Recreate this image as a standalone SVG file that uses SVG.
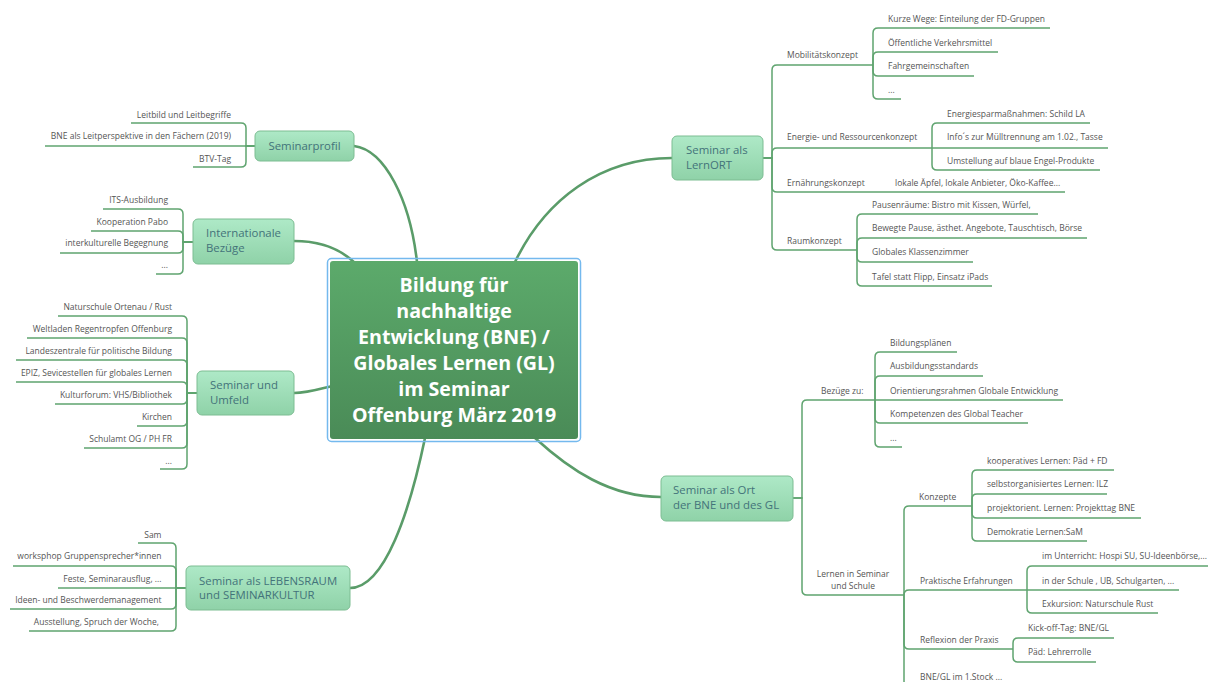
<svg xmlns="http://www.w3.org/2000/svg" width="1208" height="682" viewBox="0 0 1208 682">
<defs>
<linearGradient id="ng" x1="0" y1="0" x2="0" y2="1"><stop offset="0" stop-color="#aee9c7"/><stop offset="1" stop-color="#8fd2a8"/></linearGradient>
<linearGradient id="cg" x1="0" y1="0" x2="0" y2="1"><stop offset="0" stop-color="#5caa6b"/><stop offset="1" stop-color="#4a8b57"/></linearGradient>
<style>
.conn{fill:none;stroke:#5a9c69;stroke-width:2.6;stroke-linecap:round}
.br{fill:none;stroke:#5fa46f;stroke-width:1.5}
.node{fill:url(#ng);stroke:#7cbd92;stroke-width:1}
.nt{font-family:"Open Sans","Noto Sans",sans-serif;font-size:11.4px;fill:#43737a}
.ct{font-family:"Open Sans","Noto Sans",sans-serif;font-size:19.6px;font-weight:bold;fill:#ffffff;text-anchor:middle}
.lt{font-family:"Open Sans","Noto Sans",sans-serif;font-size:8.5px;fill:#555555}
.r{text-anchor:end}
.m{text-anchor:middle}
</style>
</defs>
<rect width="1208" height="682" fill="#ffffff"/>
<g id="connectors">
<path class="conn" d="M354,146 C385,150 410,200 417,262"/>
<path class="conn" d="M294,241 C320,241 340,248 356,264"/>
<path class="conn" d="M294,393 C306,393 316,390 332,386"/>
<path class="conn" d="M350,588 C385,588 410,510 425,438"/>
<path class="conn" d="M515,262 C545,200 600,158 672,158"/>
<path class="conn" d="M535,438 C570,470 610,497 661,497"/>
<!-- LernORT -->
<path class="br" d="M763,158 H772 V70 Q772,65 777,65 H873"/>
<path class="br" d="M763,158 H772 V153 Q772,148 777,148 H932"/>
<path class="br" d="M763,158 H772 V187 Q772,192 777,192 H1065"/>
<path class="br" d="M763,158 H772 V245 Q772,250 777,250 H857"/>
<path class="br" d="M873,65 V33 Q873,28 878,28 H1050"/>
<path class="br" d="M873,65 V57 Q873,52 878,52 H998"/>
<path class="br" d="M873,65 V71 Q873,76 878,76 H974"/>
<path class="br" d="M873,65 V94 Q873,99 878,99 H901"/>
<path class="br" d="M932,148 V128 Q932,123 937,123 H1090"/>
<path class="br" d="M932,148 H1108"/>
<path class="br" d="M932,148 V165 Q932,170 937,170 H1100"/>
<path class="br" d="M857,250 V219 Q857,214 862,214 H1038"/>
<path class="br" d="M857,250 V243 Q857,238 862,238 H1087"/>
<path class="br" d="M857,250 V257 Q857,262 862,262 H973"/>
<path class="br" d="M857,250 V281 Q857,286 862,286 H992"/>
<!-- Ort -->
<path class="br" d="M793,498 H802 V405 Q802,400 807,400 H875"/>
<path class="br" d="M793,498 H802 V590 Q802,595 807,595 H904"/>
<path class="br" d="M875,400 V357 Q875,352 880,352 H957"/>
<path class="br" d="M875,400 V381 Q875,376 880,376 H983"/>
<path class="br" d="M875,400 H1063"/>
<path class="br" d="M875,400 V418 Q875,423 880,423 H1028"/>
<path class="br" d="M875,400 V442 Q875,447 880,447 H902"/>
<path class="br" d="M904,595 V511 Q904,506 909,506 H972"/>
<path class="br" d="M904,595 Q904,590 909,590 H1027"/>
<path class="br" d="M904,595 V644 Q904,649 909,649 H1013"/>
<path class="br" d="M904,595 V681 Q904,686 909,686 H1010"/>
<path class="br" d="M972,506 V475 Q972,470 977,470 H1114"/>
<path class="br" d="M972,506 V499 Q972,494 977,494 H1107"/>
<path class="br" d="M972,506 V513 Q972,518 977,518 H1141"/>
<path class="br" d="M972,506 V536 Q972,541 977,541 H1087"/>
<path class="br" d="M1027,590 V571 Q1027,566 1032,566 H1210"/>
<path class="br" d="M1027,590 H1179"/>
<path class="br" d="M1027,590 V608 Q1027,613 1032,613 H1158"/>
<path class="br" d="M1013,649 V643 Q1013,638 1018,638 H1114"/>
<path class="br" d="M1013,649 V657 Q1013,662 1018,662 H1096"/>
<!-- Seminarprofil -->
<path class="br" d="M255,146 H246 V128 Q246,123 241,123 H131"/>
<path class="br" d="M255,146 H45"/>
<path class="br" d="M255,146 H246 V162 Q246,167 241,167 H193"/>
<!-- Internationale -->
<path class="br" d="M193,242 H183 V214 Q183,209 178,209 H103"/>
<path class="br" d="M193,242 H183 V236 Q183,231 178,231 H91"/>
<path class="br" d="M193,242 H183 V248 Q183,253 178,253 H60"/>
<path class="br" d="M193,242 H183 V269 Q183,274 178,274 H156"/>
<!-- Umfeld -->
<path class="br" d="M197,393 H187 V321 Q187,316 182,316 H58"/>
<path class="br" d="M197,393 H187 V343 Q187,338 182,338 H27"/>
<path class="br" d="M197,393 H187 V365 Q187,360 182,360 H16"/>
<path class="br" d="M197,393 H187 V387 Q187,382 182,382 H16"/>
<path class="br" d="M197,393 H187 V399 Q187,404 182,404 H55"/>
<path class="br" d="M197,393 H187 V421 Q187,426 182,426 H137"/>
<path class="br" d="M197,393 H187 V443 Q187,448 182,448 H84"/>
<path class="br" d="M197,393 H187 V464 Q187,469 182,469 H160"/>
<!-- Lebensraum -->
<path class="br" d="M186,588 H176 V548 Q176,543 171,543 H138"/>
<path class="br" d="M186,588 H176 V571 Q176,566 171,566 H13"/>
<path class="br" d="M186,588 H58"/>
<path class="br" d="M186,588 H176 V604 Q176,609 171,609 H10"/>
<path class="br" d="M186,588 H176 V626 Q176,631 171,631 H29"/>
</g>
<g id="center">
<rect x="327.5" y="258.5" width="253" height="183" rx="4" fill="none" stroke="#74b9ee" stroke-width="1.5"/>
<rect x="330" y="261" width="248" height="178" rx="3" fill="url(#cg)"/>
<text class="ct" x="454" y="292">Bildung für</text>
<text class="ct" x="454" y="318">nachhaltige</text>
<text class="ct" x="454" y="344">Entwicklung (BNE) /</text>
<text class="ct" x="454" y="370">Globales Lernen (GL)</text>
<text class="ct" x="454" y="396">im Seminar</text>
<text class="ct" x="454" y="422">Offenburg März 2019</text>
</g>
<g id="seminarprofil">
<rect class="node" x="255" y="131" width="99" height="30" rx="5"/>
<text class="nt m" x="304.5" y="150">Seminarprofil</text>
<text class="lt r" x="231" y="117.5">Leitbild und Leitbegriffe</text>
<text class="lt r" x="231" y="139">BNE als Leitperspektive in den Fächern (2019)</text>
<text class="lt r" x="231" y="161.5">BTV-Tag</text>
</g>
<g id="internationale">
<rect class="node" x="193" y="219" width="101" height="45" rx="5"/>
<text class="nt" x="206" y="237">Internationale</text>
<text class="nt" x="206" y="252">Bezüge</text>
<text class="lt r" x="168" y="202.5">ITS-Ausbildung</text>
<text class="lt r" x="168" y="224.5">Kooperation Pabo</text>
<text class="lt r" x="168" y="246">interkulturelle Begegnung</text>
<text class="lt r" x="168" y="268">...</text>
</g>
<g id="umfeld">
<rect class="node" x="197" y="371" width="97" height="44" rx="5"/>
<text class="nt" x="210" y="389">Seminar und</text>
<text class="nt" x="210" y="404">Umfeld</text>
<text class="lt r" x="172" y="310">Naturschule Ortenau / Rust</text>
<text class="lt r" x="172" y="332">Weltladen Regentropfen Offenburg</text>
<text class="lt r" x="172" y="353.5">Landeszentrale für politische Bildung</text>
<text class="lt r" x="172" y="376">EPIZ, Sevicestellen für globales Lernen</text>
<text class="lt r" x="172" y="398">Kulturforum: VHS/Bibliothek</text>
<text class="lt r" x="172" y="419.5">Kirchen</text>
<text class="lt r" x="172" y="441.5">Schulamt OG / PH FR</text>
<text class="lt r" x="172" y="463.5">...</text>
</g>
<g id="lebensraum">
<rect class="node" x="186" y="566" width="164" height="44" rx="5"/>
<text class="nt" x="199" y="584.5">Seminar als LEBENSRAUM</text>
<text class="nt" x="199" y="599">und SEMINARKULTUR</text>
<text class="lt r" x="161.5" y="537.5">Sam</text>
<text class="lt r" x="161.5" y="559">worksphop Gruppensprecher*innen</text>
<text class="lt r" x="161.5" y="581.5">Feste, Seminarausflug, ...</text>
<text class="lt r" x="161.5" y="603">Ideen- und Beschwerdemanagement</text>
<text class="lt r" x="159" y="624.5">Ausstellung, Spruch der Woche,</text>
</g>
<g id="lernort">
<rect class="node" x="672" y="136" width="91" height="44" rx="5"/>
<text class="nt" x="686" y="153.5">Seminar als</text>
<text class="nt" x="686" y="168.5">LernORT</text>
<text class="lt" x="787" y="58">Mobilitätskonzept</text>
<text class="lt" x="888" y="22">Kurze Wege: Einteilung der FD-Gruppen</text>
<text class="lt" x="888" y="45.5">Öffentliche Verkehrsmittel</text>
<text class="lt" x="888" y="69">Fahrgemeinschaften</text>
<text class="lt" x="888" y="93">...</text>
<text class="lt" x="787" y="140">Energie- und Ressourcenkonzept</text>
<text class="lt" x="947" y="116.5">Energiesparmaßnahmen: Schild LA</text>
<text class="lt" x="947" y="140">Info´s zur Mülltrennung am 1.02., Tasse</text>
<text class="lt" x="947" y="163.5">Umstellung auf blaue Engel-Produkte</text>
<text class="lt" x="787" y="186">Ernährungskonzept</text>
<text class="lt" x="895" y="186">lokale Äpfel, lokale Anbieter, Öko-Kaffee...</text>
<text class="lt" x="787" y="244">Raumkonzept</text>
<text class="lt" x="872" y="207.5">Pausenräume: Bistro mit Kissen, Würfel,</text>
<text class="lt" x="872" y="231">Bewegte Pause, ästhet. Angebote, Tauschtisch, Börse</text>
<text class="lt" x="872" y="255">Globales Klassenzimmer</text>
<text class="lt" x="872" y="279.5">Tafel statt Flipp, Einsatz iPads</text>
</g>
<g id="ort">
<rect class="node" x="661" y="476" width="132" height="45" rx="5"/>
<text class="nt" x="673" y="494">Seminar als Ort</text>
<text class="nt" x="673" y="509">der BNE und des GL</text>
<text class="lt" x="821" y="393.5">Bezüge zu:</text>
<text class="lt" x="890" y="346">Bildungsplänen</text>
<text class="lt" x="890" y="369">Ausbildungsstandards</text>
<text class="lt" x="890" y="393.5">Orientierungsrahmen Globale Entwicklung</text>
<text class="lt" x="890" y="417">Kompetenzen des Global Teacher</text>
<text class="lt" x="890" y="441">...</text>
<text class="lt m" x="853" y="577">Lernen in Seminar</text>
<text class="lt m" x="853" y="589">und Schule</text>
<text class="lt" x="919" y="499.5">Konzepte</text>
<text class="lt" x="987" y="463.5">kooperatives Lernen: Päd + FD</text>
<text class="lt" x="987" y="487">selbstorganisiertes Lernen: ILZ</text>
<text class="lt" x="987" y="511">projektorient. Lernen: Projekttag BNE</text>
<text class="lt" x="987" y="534.5">Demokratie Lernen:SaM</text>
<text class="lt" x="920" y="583.5">Praktische Erfahrungen</text>
<text class="lt" x="1042" y="559">im Unterricht: Hospi SU, SU-Ideenbörse,...</text>
<text class="lt" x="1042" y="583.5">in der Schule , UB, Schulgarten, ...</text>
<text class="lt" x="1042" y="607">Exkursion: Naturschule Rust</text>
<text class="lt" x="920" y="643">Reflexion der Praxis</text>
<text class="lt" x="1028" y="631">Kick-off-Tag: BNE/GL</text>
<text class="lt" x="1028" y="655">Päd: Lehrerrolle</text>
<text class="lt" x="920" y="679.5">BNE/GL im 1.Stock ...</text>
</g>
</svg>
